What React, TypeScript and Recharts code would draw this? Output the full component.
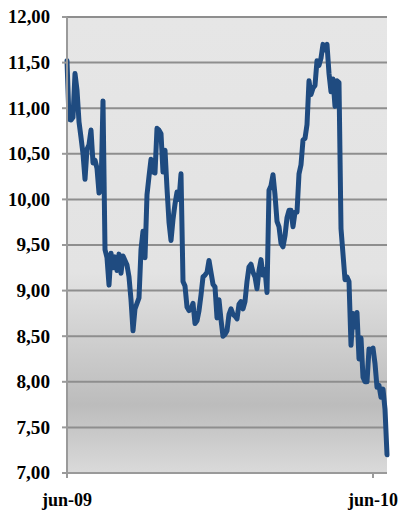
import React from "react";
import { LineChart, Line, XAxis, YAxis, CartesianGrid } from "recharts";

// daily closing level, one sample per step from jun-09 to mid jun-10
const values = [
  11.52, 10.88, 10.87, 10.9, 11.38, 11.2, 10.85, 10.68, 10.5, 10.22,
  10.55, 10.6, 10.76, 10.4, 10.43, 10.34, 10.07, 10.1, 11.08, 9.45,
  9.36, 9.06, 9.41, 9.25, 9.37, 9.22, 9.4, 9.19, 9.38, 9.33,
  9.28, 9.15, 8.9, 8.56, 8.8, 8.86, 8.92, 9.45, 9.65, 9.36,
  10.05, 10.25, 10.44, 10.3, 10.29, 10.78, 10.76, 10.72, 10.3, 10.54,
  10.12, 9.75, 9.55, 9.78, 9.95, 10.08, 10.0, 10.28, 9.1, 9.05,
  8.82, 8.78, 8.8, 8.86, 8.64, 8.67, 8.78, 8.95, 9.15, 9.17,
  9.2, 9.33, 9.2, 9.07, 9.04, 8.7, 8.9, 8.68, 8.5, 8.52,
  8.56, 8.74, 8.8, 8.74, 8.72, 8.69, 8.85, 8.88, 8.8, 8.88,
  9.1, 9.26, 9.29, 9.2, 9.15, 9.02, 9.22, 9.34, 9.17, 9.23,
  8.98, 10.1, 10.15, 10.27, 10.05, 9.76, 9.7, 9.52, 9.48, 9.6,
  9.8, 9.88, 9.88, 9.7, 9.86, 9.86, 10.28, 10.38, 10.65, 10.67,
  10.82, 11.3, 11.15, 11.22, 11.25, 11.52, 11.47, 11.55, 11.7, 11.64,
  11.7, 11.38, 11.18, 11.32, 11.02, 11.3, 11.28, 9.68, 9.4, 9.12,
  9.15, 9.1, 8.4, 8.75, 8.6, 8.76, 8.25, 8.48, 8.05, 8.0,
  8.0, 8.36, 8.35, 8.37, 8.2, 7.94, 7.96, 7.83, 7.92, 7.7,
  7.2,
];

const xTicks = [0, 153];
const xTickLabels = ["jun-09", "jun-10"];
const yTicks = [7, 7.5, 8, 8.5, 9, 9.5, 10, 10.5, 11, 11.5, 12];

const data = values.map((v, i) => ({ i, v }));

const FONT = "'Liberation Serif', 'Times New Roman', serif";

const labelFont = {
  fontFamily: FONT,
  fontWeight: 700,
  fontSize: 18,
  fill: "#000",
};

const fmtY = (v: number) => v.toFixed(2).replace(".", ",");

// value labels are a touch wider than the plain face, stretch them a bit
const YTick = ({ x, y, payload }: any) => {
  const text = fmtY(payload.value);
  return (
    <text
      x={x}
      y={y}
      dy="0.355em"
      textAnchor="end"
      textLength={text.length * 8.4}
      lengthAdjust="spacingAndGlyphs"
      {...labelFont}
    >
      {text}
    </text>
  );
};

export default function App() {
  return (
    <div style={{ position: "fixed", left: 0, top: 0, width: 400, height: 510, background: "#fff" }}>
      <LineChart width={400} height={510} data={data} margin={{ top: 17, right: 13, bottom: 0, left: 0 }}>
        <defs>
          <linearGradient id="plotBg" x1="0" y1="0" x2="0" y2="1">
            <stop offset="0%" stopColor="#e6e6e6" />
            <stop offset="56%" stopColor="#e3e3e3" />
            <stop offset="85%" stopColor="#bcbcbc" />
            <stop offset="100%" stopColor="#dadada" />
          </linearGradient>
        </defs>
        <CartesianGrid vertical={false} stroke="#8e8e8e" strokeWidth={2} fill="url(#plotBg)" />
        <XAxis
          dataKey="i"
          type="number"
          domain={[0, values.length - 1]}
          ticks={xTicks}
          tickFormatter={(t: number) => xTickLabels[xTicks.indexOf(t)]}
          height={37}
          tickSize={5}
          tickMargin={15}
          stroke="#9a9a9a"
          strokeWidth={2}
          tick={labelFont}
        />
        <YAxis
          domain={[7, 12]}
          ticks={yTicks}
          width={67}
          tickSize={5}
          tickMargin={12}
          stroke="#9a9a9a"
          strokeWidth={2}
          tick={<YTick />}
        />
        <Line
          type="linear"
          dataKey="v"
          stroke="#1f4b80"
          strokeWidth={5}
          strokeLinejoin="round"
          strokeLinecap="round"
          dot={false}
          isAnimationActive={false}
        />
      </LineChart>
    </div>
  );
}
